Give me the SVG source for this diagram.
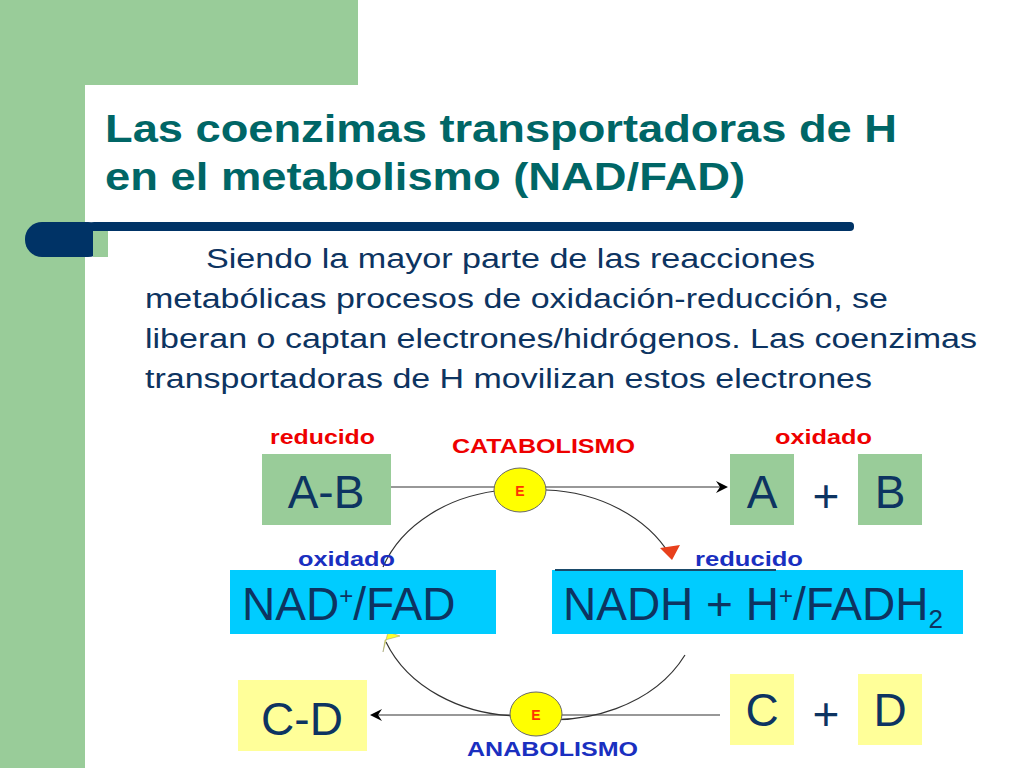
<svg xmlns="http://www.w3.org/2000/svg" width="1024" height="768" viewBox="0 0 1024 768">
<style>
.t{font-family:"Liberation Sans",Arial,sans-serif}
.big{font-size:46px;fill:#0d3461}
.lbl{font-size:21px;font-weight:bold}
.body{font-size:27px;fill:#0d3461}
.ttl{font-size:38px;font-weight:bold;fill:#006666}
</style>
<defs>
<marker id="ab" markerWidth="12" markerHeight="12" refX="10" refY="6" orient="auto" markerUnits="userSpaceOnUse"><path d="M0,0 L12,6 L0,12 L4,6z" fill="#000"/></marker>
</defs>
<rect width="1024" height="768" fill="#fff"/>
<g id="frame">
<rect x="0" y="0" width="85" height="768" fill="#99cc99"/>
<rect x="0" y="0" width="358" height="85" fill="#99cc99"/>
<rect x="85" y="85" width="60" height="60" rx="30" fill="#fff"/>
<rect x="115" y="85" width="243" height="40" fill="#fff"/>
<rect x="85" y="115" width="40" height="100" fill="#fff"/>
<rect x="25" y="222" width="80" height="35" rx="17" fill="#003366"/>
<rect x="90" y="222" width="764" height="9" rx="4" fill="#003366"/>
<rect x="93" y="231" width="15" height="26" fill="#99cc99"/>
</g>
<text class="t ttl" x="105" y="142" textLength="792" lengthAdjust="spacingAndGlyphs">Las coenzimas transportadoras de H</text>
<text class="t ttl" x="105" y="190" textLength="640" lengthAdjust="spacingAndGlyphs">en el metabolismo (NAD/FAD)</text>
<text class="t body" x="206" y="268" textLength="609" lengthAdjust="spacingAndGlyphs">Siendo la mayor parte de las reacciones</text>
<text class="t body" x="145" y="308" textLength="743" lengthAdjust="spacingAndGlyphs">metabólicas procesos de oxidación-reducción, se</text>
<text class="t body" x="145" y="348" textLength="832" lengthAdjust="spacingAndGlyphs">liberan o captan electrones/hidrógenos. Las coenzimas</text>
<text class="t body" x="145" y="388" textLength="727" lengthAdjust="spacingAndGlyphs">transportadoras de H movilizan estos electrones</text>
<g id="connectors" fill="none" stroke="#333" stroke-width="1.2">
<line x1="391" y1="487" x2="726" y2="487" marker-end="url(#ab)"/>
<line x1="720" y1="715" x2="372" y2="715" marker-end="url(#ab)"/>
<path d="M546,490 A145,115 0 0 1 670,555"/>
<path d="M685,655 A145,115 0 0 1 520,716"/>
<path d="M520,716 A145,115 0 0 1 386,642"/>
<path d="M383,567 A145,115 0 0 1 505,490"/>
<path d="M660,548 L680,545 L672,560z" fill="#e8401c" stroke="none"/>
<path d="M385,640 L400,636 L388,632 L383,652z" fill="#ffff33" stroke="#996" stroke-width="0.5"/>
</g>
<g id="AB"><rect x="262" y="454" width="129" height="71" fill="#99cc99"/><text class="t big" x="326" y="508" text-anchor="middle">A-B</text></g>
<g id="A"><rect x="730" y="454" width="64" height="71" fill="#99cc99"/><text class="t big" x="762" y="508" text-anchor="middle">A</text></g>
<text class="t big" x="826" y="512" text-anchor="middle" font-size="40">+</text>
<g id="B"><rect x="858" y="454" width="64" height="71" fill="#99cc99"/><text class="t big" x="890" y="508" text-anchor="middle">B</text></g>
<g id="NAD"><rect x="230" y="570" width="266" height="64" fill="#00ccff"/><text class="t big" x="242" y="620" font-size="42">NAD<tspan font-size="24" dy="-16">+</tspan><tspan dy="16">/FAD</tspan></text></g>
<g id="NADH"><rect x="552" y="570" width="411" height="64" fill="#00ccff"/><line x1="555" y1="570" x2="776" y2="570" stroke="#1a4a6a" stroke-width="2"/><text class="t big" x="563" y="620" font-size="42">NADH + H<tspan font-size="24" dy="-16">+</tspan><tspan dy="16">/FADH</tspan><tspan font-size="26" dy="8">2</tspan></text></g>
<g id="CD"><rect x="238" y="680" width="129" height="71" fill="#ffff99"/><text class="t big" x="302" y="735" text-anchor="middle">C-D</text></g>
<g id="C"><rect x="730" y="674" width="64" height="71" fill="#ffff99"/><text class="t big" x="762" y="726" text-anchor="middle">C</text></g>
<text class="t big" x="826" y="730" text-anchor="middle" font-size="40">+</text>
<g id="D"><rect x="858" y="674" width="64" height="71" fill="#ffff99"/><text class="t big" x="890" y="726" text-anchor="middle">D</text></g>
<g id="E1"><ellipse cx="520" cy="490" rx="26" ry="22" fill="#ffff00" stroke="#666"/><text class="t" x="520" y="496" font-size="14" font-weight="bold" fill="#ff3300" text-anchor="middle">E</text></g>
<g id="E2"><ellipse cx="536" cy="714" rx="26" ry="22" fill="#ffff00" stroke="#666"/><text class="t" x="536" y="720" font-size="14" font-weight="bold" fill="#ff3300" text-anchor="middle">E</text></g>
<text class="t lbl" x="270" y="444" fill="#e00" textLength="105" lengthAdjust="spacingAndGlyphs">reducido</text>
<text class="t lbl" x="452" y="453" fill="#e00" textLength="183" lengthAdjust="spacingAndGlyphs">CATABOLISMO</text>
<text class="t lbl" x="775" y="444" fill="#e00" textLength="97" lengthAdjust="spacingAndGlyphs">oxidado</text>
<text class="t lbl" x="298" y="566" fill="#1a2fc0" textLength="97" lengthAdjust="spacingAndGlyphs">oxidado</text>
<text class="t lbl" x="695" y="566" fill="#1a2fc0" textLength="108" lengthAdjust="spacingAndGlyphs">reducido</text>
<text class="t lbl" x="467" y="756" fill="#1a2fc0" textLength="171" lengthAdjust="spacingAndGlyphs">ANABOLISMO</text>
</svg>
